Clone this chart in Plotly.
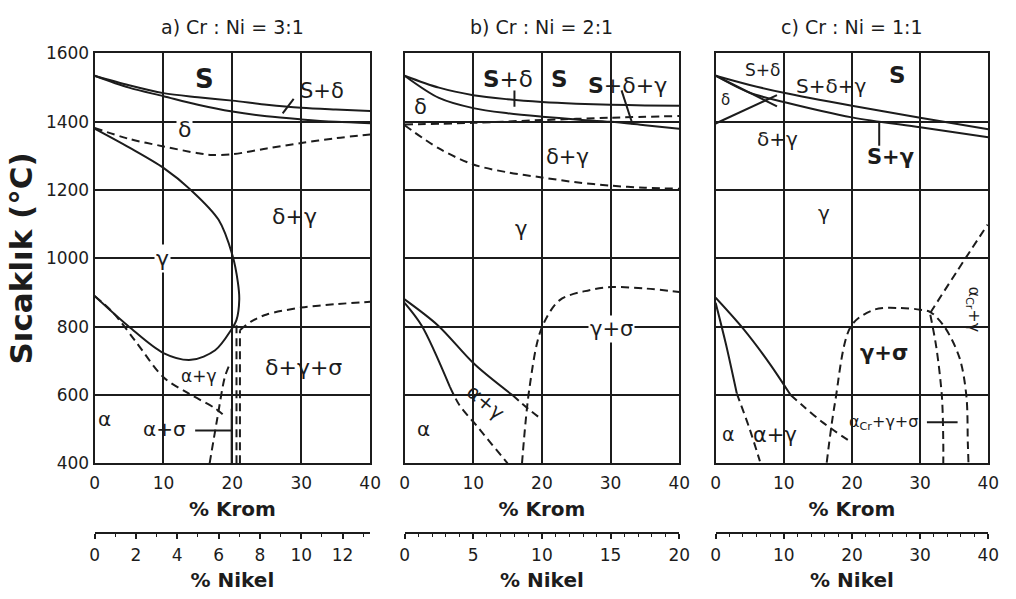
import plotly.graph_objects as go

INK = "#1c1c1c"
FONT = "DejaVu Sans"

# ---------------- data: panel a (Cr:Ni = 3:1) ----------------
a_liq_x = [0, 5, 10, 15, 20, 25, 30, 35, 40]
a_liq_y = [1535, 1507, 1484, 1472, 1462, 1450, 1441, 1436, 1432]
a_sol_x = [0, 5, 10, 15, 20, 25, 30, 35, 40]
a_sol_y = [1535, 1500, 1475, 1450, 1430, 1416, 1407, 1400, 1396]
a_delta_x = [0, 5, 10, 15, 17, 20, 25, 30, 35, 40]
a_delta_y = [1382, 1350, 1328, 1308, 1303, 1305, 1322, 1338, 1352, 1363]
a_gamma_x = [0, 5, 10, 14, 18, 20, 20.8, 21, 20.6, 19.8, 17.5, 14, 10, 5, 0]
a_gamma_y = [1380, 1325, 1265, 1200, 1113, 1010, 930, 880, 820, 790, 731, 703, 723, 800, 890]
a_alpha_x = [0, 2.7, 6, 10, 13.7, 17.5, 18.8]
a_alpha_y = [890, 841, 756, 652, 604, 561, 540]
a_sig1_x = [16.7, 17.8, 18.9, 19.6]
a_sig1_y = [400, 530, 652, 690]
a_vsol_x = [19.9, 19.9]
a_vsol_y = [400, 560]
a_vd1_x = [20.6, 20.6]
a_vd1_y = [400, 805]
a_vd2_x = [21.1, 21.1]
a_vd2_y = [400, 790]
a_dgs_x = [21.1, 22.7, 25, 30, 35, 40]
a_dgs_y = [790, 815, 836, 856, 866, 873]
a_lead1_x = [28.9, 27.3]
a_lead1_y = [1467, 1425]
a_lead2_x = [14.6, 19.8]
a_lead2_y = [496, 496]

# ---------------- data: panel b (Cr:Ni = 2:1) ----------------
b_liq_x = [0, 5, 10, 15, 20, 25, 30, 35, 40]
b_liq_y = [1535, 1500, 1478, 1466, 1458, 1453, 1450, 1448, 1447]
b_sol_x = [0, 5, 10, 15, 20, 25, 30, 35, 40]
b_sol_y = [1535, 1470, 1440, 1425, 1415, 1407, 1400, 1390, 1380]
b_d1_x = [0, 10, 20, 30, 40]
b_d1_y = [1392, 1397, 1405, 1412, 1417]
b_d2_x = [0, 5, 10, 15, 20, 25, 30, 35, 40]
b_d2_y = [1390, 1322, 1275, 1252, 1237, 1223, 1213, 1207, 1204]
b_ao_x = [0, 4.9, 10.2, 15.7]
b_ao_y = [880, 803, 690, 600]
b_aod_x = [15.7, 18, 20]
b_aod_y = [600, 560, 528]
b_ai_x = [0, 2.5, 6.6]
b_ai_y = [870, 803, 624]
b_aid_x = [6.6, 8, 10.5, 12, 15]
b_aid_y = [624, 570, 510, 473, 400]
b_sig_x = [17.1, 18.2, 19.9, 22.6, 26.9, 30, 35, 40]
b_sig_y = [400, 623, 793, 878, 907, 916, 912, 902]
b_lead1_x = [16, 16]
b_lead1_y = [1492, 1444]
b_lead2_x = [31.6, 33.2]
b_lead2_y = [1492, 1393]

# ---------------- data: panel c (Cr:Ni = 1:1) ----------------
c_liq_x = [0, 5, 10, 20, 30, 40]
c_liq_y = [1535, 1508, 1485, 1447, 1412, 1378]
c_sol_x = [0, 5, 10, 20, 30, 40]
c_sol_y = [1535, 1485, 1458, 1413, 1384, 1355]
c_x1_x = [0, 9]
c_x1_y = [1535, 1445]
c_x2_x = [0, 9]
c_x2_y = [1395, 1478]
c_ao_x = [0, 4.1, 8, 11]
c_ao_y = [885, 793, 690, 600]
c_aod_x = [11, 13, 15.7, 19.8]
c_aod_y = [600, 565, 520, 463]
c_ai_x = [0, 1.5, 3.1]
c_ai_y = [870, 750, 605]
c_aid_x = [3.1, 5, 6.5]
c_aid_y = [605, 500, 406]
c_dome_x = [16.3, 17.5, 19.9, 23.3, 27, 30, 31.5, 33.6, 35.8, 36.8, 37, 37.1]
c_dome_y = [402, 576, 803, 850, 855, 850, 843, 799, 708, 595, 460, 400]
c_in_x = [31.5, 32.4, 33.2, 33.4, 33.4]
c_in_y = [835, 737, 595, 460, 400]
c_acr_x = [31.5, 35.5, 39.9]
c_acr_y = [841, 965, 1099]
c_lead1_x = [24, 24]
c_lead1_y = [1330, 1400]
c_lead2_x = [31, 35.5]
c_lead2_y = [520, 520]

# ---------------- axis ticks / titles ----------------
krom_ticks = [0, 10, 20, 30, 40]
temp_ticks = [400, 600, 800, 1000, 1200, 1400, 1600]
nikel_a_ticks = [0, 2, 4, 6, 8, 10, 12]
nikel_b_ticks = [0, 5, 10, 15, 20]
nikel_c_ticks = [0, 10, 20, 30, 40]
nikel_max = [40 / 3, 20, 40]
nikel_minor = [1, 1, 2]
panel_titles = ["a) Cr : Ni = 3:1", "b) Cr : Ni = 2:1", "c) Cr : Ni = 1:1"]

# region labels: (axis-suffix, text, x, y, size, angle, white background)
labels = [
    ("", "<b>S</b>", 16, 1525, 26, 0, False),
    ("", "S+δ", 33, 1490, 21, 0, False),
    ("", "δ", 13, 1378, 22, 0, True),
    ("", "δ+γ", 29, 1122, 22, 0, False),
    ("", "γ", 9.9, 1000, 22, 0, True),
    ("", "δ+γ+σ", 30.3, 680, 22, 0, False),
    ("", "α+γ", 15.1, 657, 17, 0, False),
    ("", "α", 1.5, 530, 20, 0, False),
    ("", "α+σ", 10.2, 500, 20, 0, False),
    ("2", "<b>S</b>+δ", 15, 1524, 23, 0, False),
    ("2", "<b>S</b>", 22.5, 1524, 23, 0, False),
    ("2", "<b>S</b>+δ+γ", 32.5, 1506, 22, 0, False),
    ("2", "δ", 2.3, 1444, 21, 0, False),
    ("2", "δ+γ", 23.8, 1297, 21, 0, False),
    ("2", "γ", 17, 1085, 21, 0, False),
    ("2", "γ+σ", 30.2, 793, 21, 0, True),
    ("2", "α+γ", 11.8, 580, 20, 40, False),
    ("2", "α", 2.7, 502, 20, 0, False),
    ("3", "S+δ", 6.9, 1553, 17, 0, False),
    ("3", "S+δ+γ", 17, 1506, 20, 0, False),
    ("3", "<b>S</b>", 26.7, 1538, 23, 0, False),
    ("3", "δ", 1.4, 1464, 15, 0, False),
    ("3", "δ+γ", 9.1, 1350, 20, 0, False),
    ("3", "<b>S+γ</b>", 25.7, 1298, 21, 0, False),
    ("3", "γ", 15.9, 1133, 20, 0, False),
    ("3", "<b>γ+σ</b>", 24.7, 722, 21, 0, False),
    ("3", "α", 1.9, 487, 19, 0, False),
    ("3", "α+γ", 8.7, 482, 21, 0, False),
    ("3", "α<sub>Cr</sub>+γ+σ", 24.7, 521, 16, 0, False),
    ("3", "α<sub>Cr</sub>+γ", 37.8, 850, 16, 90, False),
]

# (x, y, axis suffix, dashed)
curves = [
    (a_liq_x, a_liq_y, "", False), (a_sol_x, a_sol_y, "", False),
    (a_delta_x, a_delta_y, "", True), (a_gamma_x, a_gamma_y, "", False),
    (a_alpha_x, a_alpha_y, "", True), (a_sig1_x, a_sig1_y, "", True),
    (a_vsol_x, a_vsol_y, "", False), (a_vd1_x, a_vd1_y, "", True),
    (a_vd2_x, a_vd2_y, "", True), (a_dgs_x, a_dgs_y, "", True),
    (a_lead1_x, a_lead1_y, "", False), (a_lead2_x, a_lead2_y, "", False),
    (b_liq_x, b_liq_y, "2", False), (b_sol_x, b_sol_y, "2", False),
    (b_d1_x, b_d1_y, "2", True), (b_d2_x, b_d2_y, "2", True),
    (b_ao_x, b_ao_y, "2", False), (b_aod_x, b_aod_y, "2", True),
    (b_ai_x, b_ai_y, "2", False), (b_aid_x, b_aid_y, "2", True),
    (b_sig_x, b_sig_y, "2", True),
    (b_lead1_x, b_lead1_y, "2", False), (b_lead2_x, b_lead2_y, "2", False),
    (c_liq_x, c_liq_y, "3", False), (c_sol_x, c_sol_y, "3", False),
    (c_x1_x, c_x1_y, "3", False), (c_x2_x, c_x2_y, "3", False),
    (c_ao_x, c_ao_y, "3", False), (c_aod_x, c_aod_y, "3", True),
    (c_ai_x, c_ai_y, "3", False), (c_aid_x, c_aid_y, "3", True),
    (c_dome_x, c_dome_y, "3", True), (c_in_x, c_in_y, "3", True),
    (c_acr_x, c_acr_y, "3", True),
    (c_lead1_x, c_lead1_y, "3", False), (c_lead2_x, c_lead2_y, "3", False),
]

fig = go.Figure()
for xs, ys, s, dashed in curves:
    fig.add_trace(go.Scatter(
        x=xs, y=ys, xaxis="x" + s, yaxis="y" + s, mode="lines",
        line=dict(color=INK, width=2, dash="8px,5px" if dashed else "solid",
                  shape="spline", smoothing=0.9),
        hoverinfo="skip", showlegend=False))

# invisible traces for the secondary (% Nikel) axes
for i, s in enumerate(["4", "5", "6"]):
    fig.add_trace(go.Scatter(x=[0, nikel_max[i]], y=[400, 400], xaxis="x" + s,
                             yaxis=["y", "y2", "y3"][i], mode="markers",
                             marker=dict(opacity=0), hoverinfo="skip",
                             showlegend=False))

W, H = 1016, 599
dom_x = [[91 / W, 371 / W], [406 / W, 685 / W], [722 / W, 999 / W]]
dom_y = [1 - 469 / H, 1 - 45 / H]

xbase = dict(range=[0, 40], tickvals=krom_ticks, showgrid=True, gridcolor=INK,
             gridwidth=1.5, showline=True, linecolor=INK, linewidth=2, mirror=True,
             zeroline=False, ticks="", tickfont=dict(size=17, color=INK),
             ticklabelstandoff=3,
             title=dict(text="<b>% Krom</b>", font=dict(size=20, color=INK),
                        standoff=10))
ybase = dict(range=[400, 1600], tickvals=temp_ticks, showgrid=True, gridcolor=INK,
             gridwidth=1.5, showline=True, linecolor=INK, linewidth=2, mirror=True,
             zeroline=False, ticks="", tickfont=dict(size=17, color=INK))

layout = dict(width=W, height=H, margin=dict(l=0, r=0, t=0, b=0),
              paper_bgcolor="white", plot_bgcolor="white",
              font=dict(family=FONT, color=INK), showlegend=False)
for i, s in enumerate(["", "2", "3"]):
    xa = dict(xbase, domain=dom_x[i], anchor="y" + s)
    ya = dict(ybase, domain=dom_y, anchor="x" + s)
    if i == 0:
        ya["title"] = dict(text="<b>Sıcaklık (°C)</b>",
                           font=dict(size=31, color=INK), standoff=4)
    else:
        ya["showticklabels"] = False
    layout["xaxis" + (s if s else "")] = xa
    layout["yaxis" + (s if s else "")] = ya

nik_ticks = [nikel_a_ticks, nikel_b_ticks, nikel_c_ticks]
for i, s in enumerate(["4", "5", "6"]):
    layout["xaxis" + s] = dict(
        range=[0, nikel_max[i]], tickvals=nik_ticks[i], domain=dom_x[i],
        overlaying=["x", "x2", "x3"][i], anchor="free", position=1 - 541 / H,
        side="bottom", showline=True, linecolor=INK, linewidth=1.5,
        showgrid=False, zeroline=False, ticks="outside", ticklen=5,
        tickwidth=1.5, tickcolor=INK, tickfont=dict(size=17, color=INK),
        ticklabelstandoff=2,
        minor=dict(ticks="outside", ticklen=3, tickwidth=1, tickcolor=INK,
                   dtick=nikel_minor[i], tick0=0, showgrid=False),
        title=dict(text="<b>% Nikel</b>", font=dict(size=20, color=INK),
                   standoff=8))

fig.update_layout(**layout)

anns = []
for i, t in enumerate(panel_titles):
    anns.append(dict(text=t, xref=["x", "x2", "x3"][i] + " domain", x=0.5,
                     yref="paper", y=1 - 18 / H, showarrow=False,
                     font=dict(size=19, color=INK), xanchor="center",
                     yanchor="middle"))
for s, t, x, y, size, ang, bg in labels:
    anns.append(dict(text=t, xref="x" + s, yref="y" + s, x=x, y=y,
                     showarrow=False, textangle=ang,
                     font=dict(size=size, color=INK),
                     bgcolor="white" if bg else "rgba(0,0,0,0)", borderpad=1))
fig.update_layout(annotations=anns)

fig.write_html("out.html")
